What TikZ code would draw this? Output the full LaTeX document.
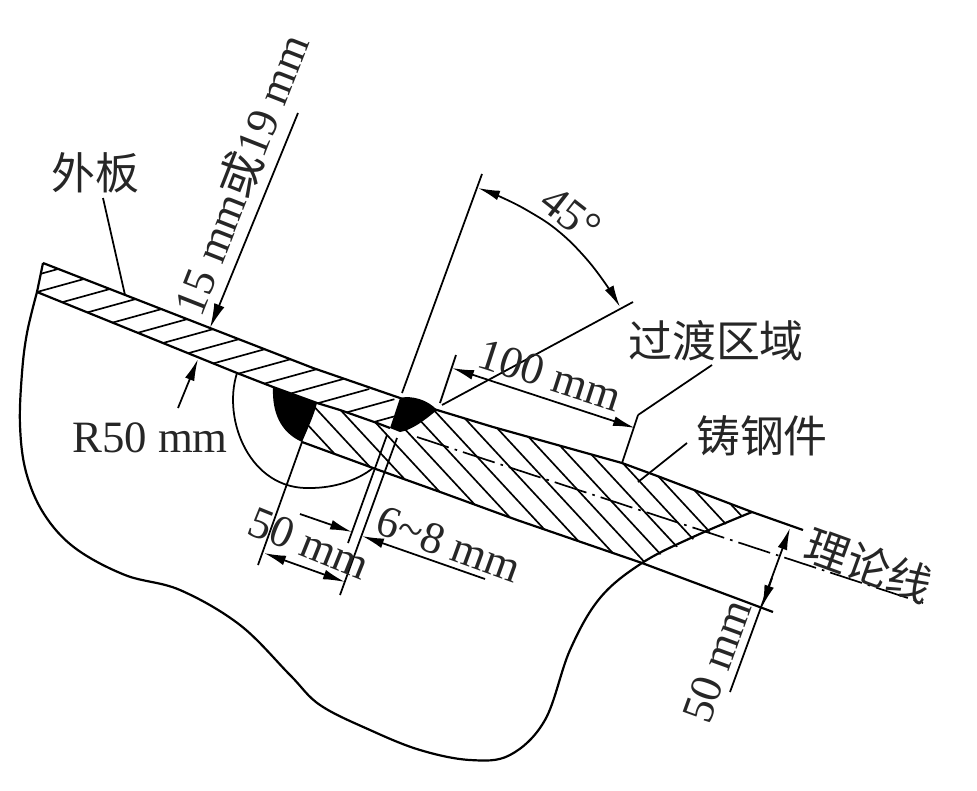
\documentclass[tikz,border=0pt]{standalone}
\usepackage{fontspec}
\setmainfont{Liberation Serif}
\newfontfamily\cjk{Noto Sans CJK SC}
\usetikzlibrary{arrows.meta}
\tikzset{
  outline/.style={line width=1.25pt,line join=round},
  thinl/.style={line width=1pt},
  hatch/.style={line width=0.95pt},
  dimtip/.style={-{Latex[length=12.5pt,width=5.6pt]},line width=1pt},
  dimboth/.style={{Latex[length=12.5pt,width=5.6pt]}-{Latex[length=12.5pt,width=5.6pt]},line width=1pt},
  lab/.style={font=\fontsize{25.5}{28}\selectfont,inner sep=0pt,text=black!85},
  cn/.style={font=\cjk\fontsize{25}{28}\selectfont,inner sep=0pt,text=black!85},
  centerdash/.style={line width=0.95pt,dash pattern=on 19pt off 3.5pt on 1.5pt off 3.5pt},
}
\begin{document}
\begin{tikzpicture}[x=0.02cm,y=-0.02cm]
\useasboundingbox (0,0) rectangle (977,791);
% key points
\coordinate (apex) at (43,263);
\coordinate (plateL) at (37,292);
\coordinate (t15) at (210,328);
\coordinate (w2top) at (400,398);
\coordinate (w2r) at (437,410);
\coordinate (tip) at (752,512);
\coordinate (w1a) at (273,387);
\coordinate (w1b) at (317,403);
\coordinate (w1c) at (302,442);
\coordinate (w2l) at (390,428);
\coordinate (lowA) at (373,468);
\coordinate (lowB) at (642,563);
\coordinate (ext100) at (622,463);
% plate hatch
\begin{scope}
\clip (apex) -- (t15) -- (313,368) -- (w2top) -- (w2l) -- (377,423) -- (340,410) -- (w1b) -- (w1a) -- (237,373) -- (plateL) -- cycle;
\foreach \k in {-1,...,13}
  \draw[hatch] ({37+25.2*\k},{292+10.2*\k}) -- ++(55,-15.2);
\end{scope}
% casting hatch
\begin{scope}
\clip (w1b) -- (340,410) -- (377,423) -- (w2l) -- (w2r) -- (493,427) -- (ext100) -- (660,477) -- (tip) -- (lowB) -- (517,520) -- (443,493) -- (lowA) -- (w1c) -- cycle;
\foreach \k in {0,...,15}
  \draw[hatch] ({331+23.3*\k-100},{450-108}) -- ++(260,280.8);
\end{scope}
% outlines
\draw[outline] (apex) -- (plateL);
\draw[outline] (apex) -- (t15) -- (313,368) -- (w2top) -- (w2r) -- (493,427) -- (ext100) -- (660,477) -- (tip) -- (803,530);
\draw[outline] (plateL) -- (237,373) -- (w1a) -- (w1b) -- (340,410) -- (377,423) -- (w2l);
\draw[outline] (w1c) -- (lowA) -- (443,493) -- (517,520) -- (lowB) -- (773,612);
% body outline
\draw[outline] plot[smooth,tension=0.6] coordinates {(plateL) (27,333) (22,373) (20,425) (26,472) (44,514) (75,548) (125,575) (180,590) (240,625) (290,675) (320,705) (370,730) (420,750) (470,760) (510,755) (545,720) (570,650) (600,598) (lowB) (693,537) (tip)};
% R50 arc
\draw[thinl] (237,373) .. controls (222,420) and (250,490) .. (310,488) .. controls (335,488) and (358,480) .. (lowA);
% welds
\fill[black] (w1a) .. controls (272,412) and (280,432) .. (w1c) .. controls (308,428) and (314,415) .. (w1b) -- cycle;
\fill[black] (w2top) .. controls (412,395) and (428,400) .. (w2r) .. controls (425,420) and (412,430) .. (400,432) -- (w2l) -- cycle;
% centre line
\draw[centerdash] (417,437) -- (923,603);
% extension and dimension lines
\coordinate (ext50a) at (258,565);
\coordinate (ext50b) at (340,595);
\coordinate (ext68a) at (348,543);
\coordinate (w2bl) at (397,438);
\coordinate (w2bm) at (387,435);
\draw[thinl] (w1c) -- (ext50a);
\draw[thinl] (w2bm) -- (ext68a);
\draw[thinl] (w2bl) -- (ext50b);
\draw[dimboth] (264,553) -- (345,582);
\coordinate (d68a) at (300,514);
\coordinate (d68b) at (352,532);
\coordinate (d68c) at (485,579);
\coordinate (d68d) at (362,536);
\draw[dimtip] (d68a) -- (d68b);
\draw[dimtip] (d68c) -- (d68d);
% 15 mm or 19 mm
\coordinate (d15) at (298,113);
\draw[-{Latex[length=14pt,width=6.2pt]},line width=1pt] (d15) -- (t15);
% outer plate leader
\coordinate (wb) at (103,198);
\coordinate (wbend) at (125,295);
\draw[thinl] (wb) -- (wbend);
% R50
\coordinate (r50a) at (178,408);
\coordinate (r50b) at (198,359);
\draw[dimtip] (r50a) -- (r50b);
% 45 deg
\coordinate (a1) at (482,174);
\coordinate (a2) at (633,302);
\draw[thinl] (a1) -- (402,393);
\draw[thinl] (a2) -- (442,405);
\draw[dimboth] plot[smooth,tension=0.7] coordinates {(478,188) (503,198) (530,212) (557,230) (583,255) (605,283) (620,307)};
% 100 mm
\coordinate (h1) at (456,355);
\coordinate (h2) at (440,403);
\draw[thinl] (h1) -- (h2);
\coordinate (h3) at (638,415);
\draw[thinl] (ext100) -- (h3);
\draw[dimboth] (452,368) -- (635,428);
\coordinate (gd) at (712,365);
\draw[thinl] (h3) -- (gd);
% cast leader
\coordinate (zg) at (687,443);
\coordinate (zg2) at (638,482);
\draw[thinl] (zg) -- (zg2);
% 50 mm right
\coordinate (r1) at (790,528);
\coordinate (r2) at (730,692);
\draw[dimtip] (r2) -- (r1);
\draw[dimtip] (772,578) -- (762,607);
% labels
\node[cn] (waiban) at (95,173) {外板};
\node[lab,rotate=68.5] (n15) at (240,174) {15 mm{\cjk 或}19 mm};
\node[lab,rotate=-38] (n45) at (571,214) {45°};
\node[cn] (guodu) at (716,341) {过渡区域};
\node[lab,rotate=-18] (n100) at (550,375) {100 mm};
\node[cn] (zhugang) at (762,436) {铸钢件};
\node[lab] (r50) at (150,438) {R50 mm};
\node[lab,rotate=-22] (n50) at (309,543) {50 mm};
\node[lab,rotate=-20] (n68) at (449,544) {6\symbol{126}8 mm};
\node[cn,rotate=-20] (lilun) at (869,565) {理论线};
\node[lab,rotate=70] (n50r) at (717,661) {50 mm};
\end{tikzpicture}
\end{document}
